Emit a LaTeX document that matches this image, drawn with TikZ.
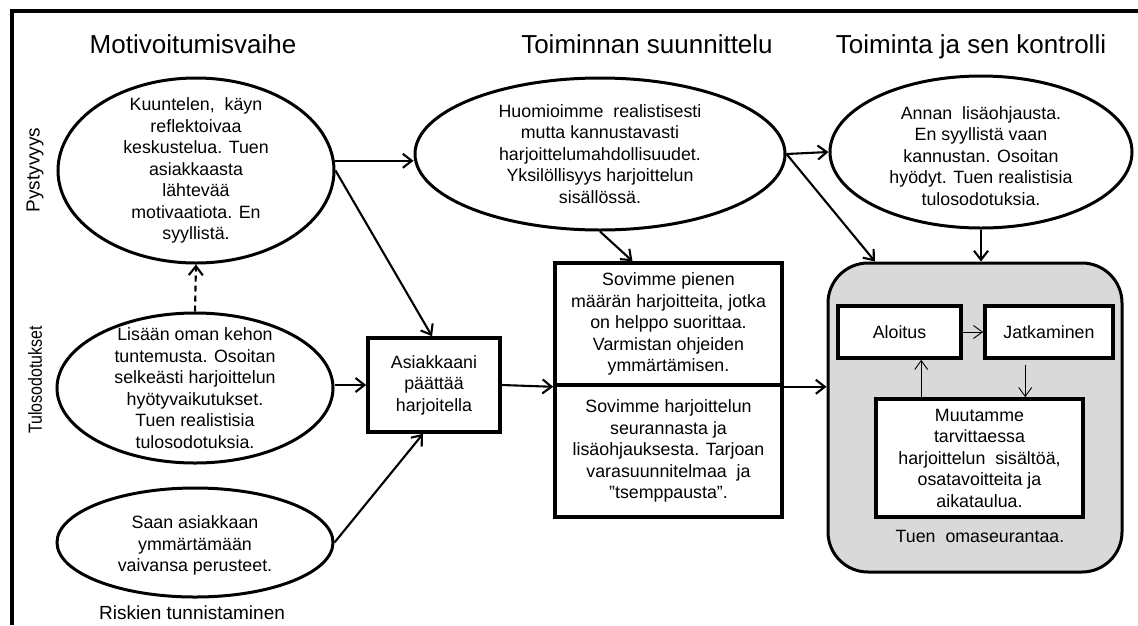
\documentclass[tikz,border=0pt]{standalone}
\usepackage{fontspec}
\usepackage{graphicx}
\setmainfont{Liberation Sans}
\usetikzlibrary{shapes.geometric,arrows.meta,calc}
\begin{document}
\begin{tikzpicture}[x=1pt,y=-1pt,
  body/.style={font=\fontsize{17.8}{21.5}\selectfont, align=center, inner sep=0pt},
  oval/.style={ellipse, draw, line width=3pt, inner sep=0pt},
  boxnode/.style={draw, line width=3.6pt, fill=white, inner sep=2pt, align=center, font=\fontsize{17.8}{21.5}\selectfont},
  arr/.style={line width=2.1pt, -{Straight Barb[length=9pt,width=14pt]}},
  tarr/.style={line width=0.9pt, -{Straight Barb[length=9pt,width=13pt]}},
  head/.style={font=\fontsize{26}{30}\selectfont, anchor=base, inner sep=0pt},
  side/.style={font=\fontsize{19}{22}\selectfont, rotate=90, inner sep=0pt}
]
\useasboundingbox (0,0) rectangle (1138,625);
% frame
\draw[line width=3.2pt] (1138,11) -- (12,11) -- (12,625);

% headers
\node[head] (h1) at (193,53) {Motivoitumisvaihe};
\node[head] (h2) at (647,53) {Toiminnan suunnittelu};
\node[head] (h3) at (971,53) {Toiminta ja sen kontrolli};

% side labels
\node[side] (s1) at (35,170) {Pystyvyys};
\node[side] (s2) at (35,380) {\scalebox{0.84}[1]{Tulosodotukset}};
\node[font=\fontsize{19}{22}\selectfont, anchor=base, inner sep=0pt] (rk) at (192,619) {Riskien tunnistaminen};

% ellipses
\node[oval, minimum width=276, minimum height=185] (e1) at (196,170.5) {};
\node[body] at (e1) {Kuuntelen,\ \ käyn\\reflektoivaa\\keskustelua. Tuen\\asiakkaasta\\lähtevää\\motivaatiota. En\\syyllistä.};
\node[oval, minimum width=276, minimum height=150] (e2) at (195,388) {};
\node[body] at (e2) {Lisään oman kehon\\tuntemusta. Osoitan\\selkeästi harjoittelun\\hyötyvaikutukset.\\Tuen realistisia\\tulosodotuksia.};
\node[oval, minimum width=276, minimum height=109] (e3) at (195,542.5) {};
\node[body] at ([yshift=-3pt]e3) {Saan asiakkaan\\ymmärtämään\\vaivansa perusteet.};
\node[oval, minimum width=370, minimum height=152] (e4) at (600,154) {};
\node[body] at (e4) {Huomioimme\ \ realistisesti\\mutta kannustavasti\\harjoittelumahdollisuudet.\\Yksilöllisyys harjoittelun\\sisällössä.};
\node[oval, minimum width=302, minimum height=152] (e5) at (981,152) {};
\node[body] at ([yshift=-4pt]e5) {Annan\ \ lisäohjausta.\\En syyllistä vaan\\kannustan. Osoitan\\hyödyt. Tuen realistisia\\tulosodotuksia.};

% boxes
\node[boxnode, minimum width=132, minimum height=94] (A) at (434,385) {Asiakkaani\\päättää\\harjoitella};
\node[boxnode, minimum width=227, minimum height=122] (Bt) at (668.5,324) {Sovimme pienen\\määrän harjoitteita, jotka\\on helppo suorittaa.\\Varmistan ohjeiden\\ymmärtämisen.};
\node[boxnode, minimum width=227, minimum height=132] (Bb) at (668.5,451) {Sovimme harjoittelun\\seurannasta ja\\lisäohjauksesta. Tarjoan\\varasuunnitelmaa\ \ ja\\”tsemppausta”.};

% rounded group
\node[draw, line width=3pt, fill=black!15, rounded corners=40pt, minimum width=294, minimum height=309, inner sep=0pt] (R) at (975,417.5) {};
\node[boxnode, minimum width=123, minimum height=52] (Al) at (899.5,332) {Aloitus};
\node[boxnode, minimum width=128, minimum height=52] (Ja) at (1049,332) {Jatkaminen};
\node[boxnode, minimum width=207, minimum height=118] (Mu) at (979.5,458) {Muutamme\\tarvittaessa\\harjoittelun\ \ sisältöä,\\osatavoitteita ja\\aikataulua.};
\node[body, anchor=base] (tu) at (980,542) {Tuen\ \ omaseurantaa.};

% connectors
\draw[arr, dash pattern=on 6pt off 4pt] (e2.north) -- (e1.south);
\draw[arr] (e1.4) -- (e1.4 -| e4.west);
\draw[arr] (e1.east) -- ([xshift=-2pt]A.north);
\draw[arr] (A.west -| e2.east) -- (A.west);
\draw[arr] (e3.east) -- ([xshift=-11pt]A.south);
\draw[arr] (A.east) -- (Bt.south west);
\draw[arr] (e4.south) -- ([xshift=-36pt]Bt.north);
\draw[arr] (e4.east) -- (e5.west);
\draw[arr] (e4.east) -- ([xshift=-100pt]R.north);
\draw[arr] (e5.south) -- (e5.south |- R.north);
\draw[arr] (Bt.south east) -- (Bt.south east -| R.west);
\draw[tarr] (Al.east) -- (Ja.west);
\draw[tarr] ([xshift=47pt]Mu.north west) -- ([xshift=47pt]Mu.north west |- Al.south);
\draw[tarr] ([xshift=42pt,yshift=-5pt]Ja.south west) -- ([xshift=42pt]Ja.south west |- Mu.north);
\end{tikzpicture}
\end{document}
